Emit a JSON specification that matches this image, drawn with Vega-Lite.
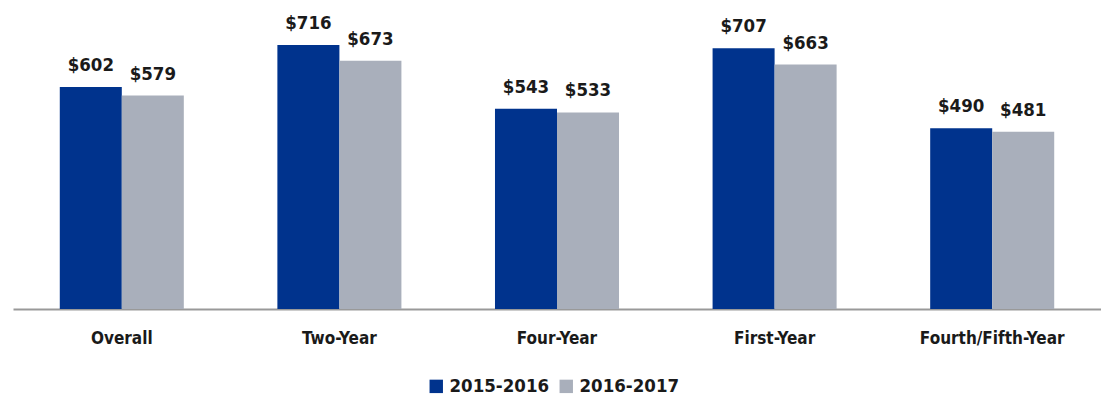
{
  "$schema": "https://vega.github.io/schema/vega-lite/v6.json",
  "width": 1088,
  "height": 309,
  "padding": {"left": 13, "top": 0, "right": 0, "bottom": 0},
  "background": "white",
  "config": {"view": {"stroke": null}, "font": "DejaVu Sans Condensed"},
  "data": {"values": [
    {"cat": "Overall", "year": "2015-2016", "value": 602},
    {"cat": "Overall", "year": "2016-2017", "value": 579},
    {"cat": "Two-Year", "year": "2015-2016", "value": 716},
    {"cat": "Two-Year", "year": "2016-2017", "value": 673},
    {"cat": "Four-Year", "year": "2015-2016", "value": 543},
    {"cat": "Four-Year", "year": "2016-2017", "value": 533},
    {"cat": "First-Year", "year": "2015-2016", "value": 707},
    {"cat": "First-Year", "year": "2016-2017", "value": 663},
    {"cat": "Fourth/Fifth-Year", "year": "2015-2016", "value": 490},
    {"cat": "Fourth/Fifth-Year", "year": "2016-2017", "value": 481}
  ]},
  "encoding": {
    "x": {"field": "cat", "type": "nominal", "sort": null,
      "scale": {"paddingInner": 0.43, "paddingOuter": 0.215},
      "axis": {"title": null, "labelAngle": 0, "ticks": false, "domainColor": "#999999", "domainWidth": 2,
        "labelFont": "DejaVu Sans Condensed", "labelFontWeight": "bold", "labelFontSize": 17, "labelColor": "#1a1a1a", "labelPadding": 21}},
    "xOffset": {"field": "year", "type": "nominal"},
    "y": {"field": "value", "type": "quantitative", "scale": {"domain": [0, 838]}, "axis": null}
  },
  "layer": [
    {"mark": {"type": "bar"},
     "encoding": {"color": {"field": "year", "type": "nominal",
       "scale": {"domain": ["2015-2016", "2016-2017"], "range": ["#00338D", "#A9AFBB"]},
       "legend": {"title": null, "orient": "none", "legendX": 414, "legendY": 377, "direction": "horizontal", "symbolType": "square", "symbolSize": 180,
         "symbolStrokeWidth": 0, "labelFont": "DejaVu Sans Condensed", "labelFontWeight": "bold", "labelFontSize": 18.5, "labelColor": "#1a1a1a", "labelOffset": 4, "columnPadding": 7}}}},
    {"mark": {"type": "text", "baseline": "bottom", "dy": -12, "fontWeight": "bold", "fontSize": 18.5, "color": "#1a1a1a", "font": "DejaVu Sans Condensed"},
     "encoding": {"text": {"field": "value", "type": "quantitative", "format": "$,.0f"}}}
  ]
}
